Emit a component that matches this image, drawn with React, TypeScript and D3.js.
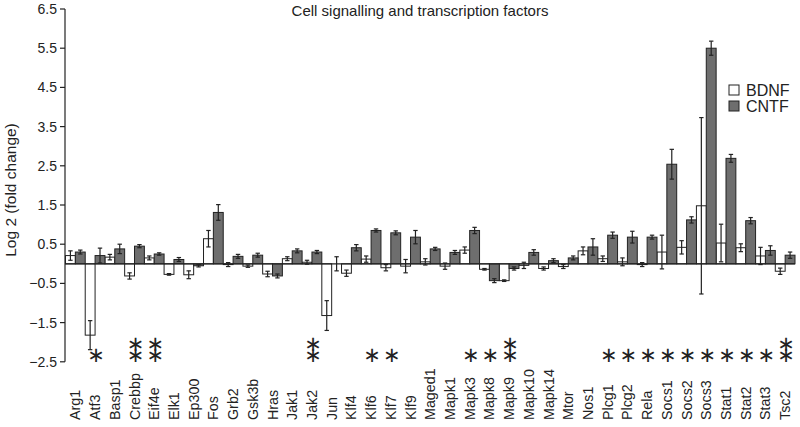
import React from "react";
import * as d3 from "d3";

const genes = ["Arg1","Atf3","Basp1","Crebbp","Eif4e","Elk1","Ep300","Fos","Grb2","Gsk3b","Hras","Jak1","Jak2","Jun","Klf4","Klf6","Klf7","Klf9","Maged1","Mapk1","Mapk3","Mapk8","Mapk9","Mapk10","Mapk14","Mtor","Nos1","Plcg1","Plcg2","Rela","Socs1","Socs2","Socs3","Stat1","Stat2","Stat3","Tsc2"];

const bdnf = [0.21,-1.82,0.17,-0.31,0.15,-0.27,-0.28,0.64,-0.02,-0.06,-0.26,0.13,0.04,-1.32,-0.24,0.12,-0.10,-0.06,0.05,-0.06,0.35,-0.14,-0.43,-0.04,-0.12,-0.07,0.33,0.13,0.05,-0.02,0.30,0.42,1.48,0.53,0.41,0.20,-0.19];
const bdnfErr = [0.12,0.37,0.07,0.08,0.05,0.02,0.10,0.21,0.05,0.03,0.07,0.05,0.05,0.38,0.08,0.08,0.08,0.17,0.08,0.08,0.08,0.02,0.02,0.08,0.04,0.05,0.10,0.07,0.10,0.05,0.43,0.17,2.25,0.48,0.10,0.22,0.08];

const cntf = [0.30,0.21,0.38,0.45,0.25,0.11,-0.05,1.31,0.19,0.22,-0.31,0.33,0.30,0.00,0.41,0.85,0.79,0.68,0.38,0.29,0.85,-0.43,-0.12,0.29,0.08,0.15,0.43,0.73,0.68,0.68,2.54,1.12,5.50,2.69,1.10,0.34,0.22];
const cntfErr = [0.05,0.19,0.12,0.04,0.03,0.05,0.03,0.20,0.05,0.05,0.05,0.05,0.04,0.18,0.08,0.04,0.05,0.17,0.04,0.05,0.08,0.05,0.04,0.07,0.05,0.05,0.21,0.08,0.15,0.05,0.38,0.08,0.18,0.10,0.08,0.12,0.08];

const stars = [0,1,0,2,2,0,0,0,0,0,0,0,2,0,0,1,1,0,0,0,1,1,2,0,0,0,0,1,1,1,1,1,1,1,1,1,2];

const yTicks = [-2.5,-1.5,-0.5,0.5,1.5,2.5,3.5,4.5,5.5,6.5];
const seriesNames = ["BDNF","CNTF"];
const seriesColors = ["#ffffff","#6e6e6e"];

const W = 800, H = 427;
const FONT = "'Liberation Sans', Arial, Helvetica, sans-serif";

export default function App() {
  const x = d3.scaleBand<string>().domain(genes).range([65.5, 795]).padding(0);
  const sub = d3.scaleBand<string>().domain(seriesNames).range([0, x.bandwidth()]).padding(0);
  const y = d3.scaleLinear().domain([-2.5, 6.5]).range([361.8, 9]);
  const y0 = y(0);
  const series = [
    { name: "BDNF", vals: bdnf, errs: bdnfErr },
    { name: "CNTF", vals: cntf, errs: cntfErr },
  ];
  const fmt = (v: number) => (v < 0 ? "\u2212" + Math.abs(v).toFixed(1) : v.toFixed(1));
  const STAR_FS = 21;
  const starOff = 0.32 * STAR_FS;

  return (
    <svg width={W} height={H} style={{ position: "absolute", left: 0, top: 0, background: "#fff" }} fontFamily={FONT}>
      <text x={420} y={16} textAnchor="middle" fontSize={15} fill="#222">Cell signalling and transcription factors</text>
      <text transform={`translate(16,190) rotate(-90)`} textAnchor="middle" fontSize={15.5} fill="#222">Log 2 (fold change)</text>

      {/* y axis */}
      <line x1={65} x2={65} y1={y(6.5)} y2={y(-2.5)} stroke="#222" strokeWidth={1.2} />
      {yTicks.map((t) => (
        <g key={t}>
          <line x1={60} x2={65} y1={y(t)} y2={y(t)} stroke="#222" strokeWidth={1.2} />
          <text x={57} y={y(t) + 5} textAnchor="end" fontSize={14} fill="#222">{fmt(t)}</text>
        </g>
      ))}

      {/* bars */}
      {series.map((s, si) =>
        genes.map((g, i) => {
          const v = s.vals[i];
          const bx = (x(g) as number) + (sub(s.name) as number);
          const bw = sub.bandwidth();
          const top = Math.min(y(v), y0);
          const h = Math.abs(y(v) - y0);
          const cx = bx + bw / 2;
          const e = s.errs[i];
          return (
            <g key={s.name + g}>
              <rect x={bx} y={top} width={bw} height={h} fill={seriesColors[si]} stroke="#222" strokeWidth={1} />
              <line x1={cx} x2={cx} y1={y(v - e)} y2={y(v + e)} stroke="#222" strokeWidth={1.2} />
              <line x1={cx - 2.2} x2={cx + 2.2} y1={y(v - e)} y2={y(v - e)} stroke="#222" strokeWidth={1.2} />
              <line x1={cx - 2.2} x2={cx + 2.2} y1={y(v + e)} y2={y(v + e)} stroke="#222" strokeWidth={1.2} />
            </g>
          );
        })
      )}

      {/* zero line */}
      <line x1={65} x2={795} y1={y0} y2={y0} stroke="#222" strokeWidth={1.2} />

      {/* asterisks */}
      {genes.map((g, i) => {
        const n = stars[i];
        if (!n) return null;
        const cx = (x(g) as number) + x.bandwidth() / 2 + 1;
        const rows = n === 1 ? [355] : [344, 355];
        return (
          <text key={g} fontSize={STAR_FS} fontFamily="'DejaVu Sans', sans-serif" textAnchor="middle" fill="#222">
            {rows.map((cy, k) => (
              <tspan key={k} x={cx} y={cy + starOff}>{"\u2217"}</tspan>
            ))}
          </text>
        );
      })}

      {/* gene labels */}
      {genes.map((g) => {
        const cx = (x(g) as number) + x.bandwidth() / 2;
        return (
          <text key={g} transform={`translate(${cx + 5},420) rotate(-90)`} textAnchor="start" fontSize={14.3} fill="#222">{g}</text>
        );
      })}

      {/* legend */}
      {seriesNames.map((n, i) => (
        <g key={n}>
          <rect x={729} y={85 + i * 16} width={10} height={10} fill={seriesColors[i]} stroke="#222" strokeWidth={1} />
          <text x={746} y={96 + i * 16} fontSize={16} fill="#222">{n}</text>
        </g>
      ))}
    </svg>
  );
}
